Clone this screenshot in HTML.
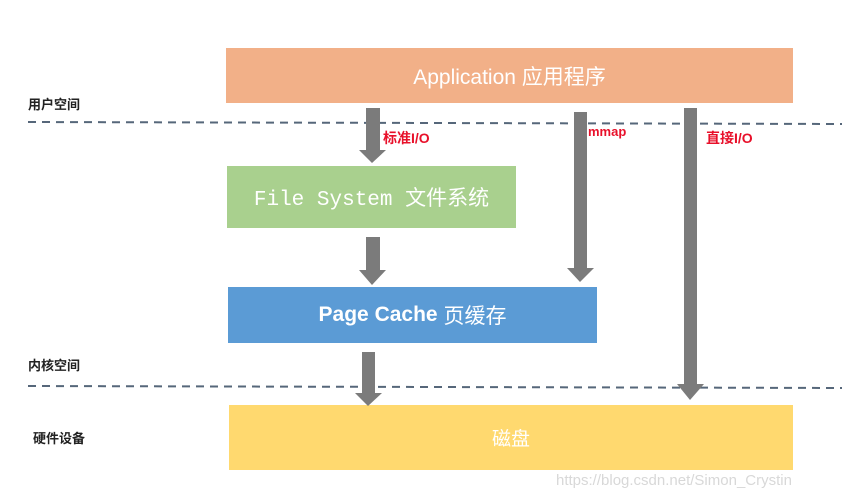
<!DOCTYPE html>
<html><head><meta charset="utf-8"><style>
body{margin:0;width:862px;height:503px;background:#fff;position:relative;overflow:hidden;font-family:"Liberation Sans","Noto Sans CJK SC",sans-serif}
.b{position:absolute;color:#fff;display:flex;align-items:center;justify-content:center}
.l{position:absolute;font-size:13px;color:#222;font-weight:bold}
.r{position:absolute;font-size:14px;color:#e8102a;font-weight:bold}
</style></head><body>
<div class="b" style="left:226px;top:48px;width:567px;height:55px;background:#f2b088;font-size:21px">Application 应用程序</div>
<div class="b" style="left:227px;top:166px;width:289px;height:62px;background:#a9d08e;font-size:21px;font-family:'Liberation Mono','Noto Sans CJK SC',monospace">File System 文件系统</div>
<div class="b" style="left:228px;top:287px;width:369px;height:56px;background:#5b9bd5;font-size:21px;font-weight:bold">Page Cache <span style="font-weight:normal">&nbsp;页缓存</span></div>
<div class="b" style="left:229px;top:405px;width:564px;height:65px;background:#ffd96f;font-size:19px">磁盘</div>
<svg style="position:absolute;left:0;top:0" width="862" height="503">
<line x1="28" y1="122" x2="842" y2="124" stroke="#56677a" stroke-width="2" stroke-dasharray="8,6"/>
<line x1="28" y1="386" x2="842" y2="388" stroke="#56677a" stroke-width="2" stroke-dasharray="8,6"/>
<g fill="#7b7b7b">
<rect x="366" y="108" width="14" height="42"/><polygon points="359,150 386,150 372,163"/>
<rect x="366" y="237" width="14" height="34"/><polygon points="359,270 386,270 372,285"/>
<rect x="574" y="112" width="13" height="156"/><polygon points="567,268 594,268 580,282"/>
<rect x="684" y="108" width="13" height="276"/><polygon points="677,384 704,384 690,400"/>
<rect x="362" y="352" width="13" height="42"/><polygon points="355,393 382,393 368,406"/>
</g>
</svg>
<div class="r" style="left:383px;top:128px">标准I/O</div>
<div class="r" style="left:588px;top:124px;font-size:13px">mmap</div>
<div class="r" style="left:706px;top:128px">直接I/O</div>
<div class="l" style="left:28px;top:94px">用户空间</div>
<div class="l" style="left:28px;top:355px">内核空间</div>
<div class="l" style="left:33px;top:428px">硬件设备</div>
<div style="position:absolute;left:556px;top:472px;font-size:15px;color:#d8d8d8">https://blog.csdn.net/Simon_Crystin</div>
</body></html>
